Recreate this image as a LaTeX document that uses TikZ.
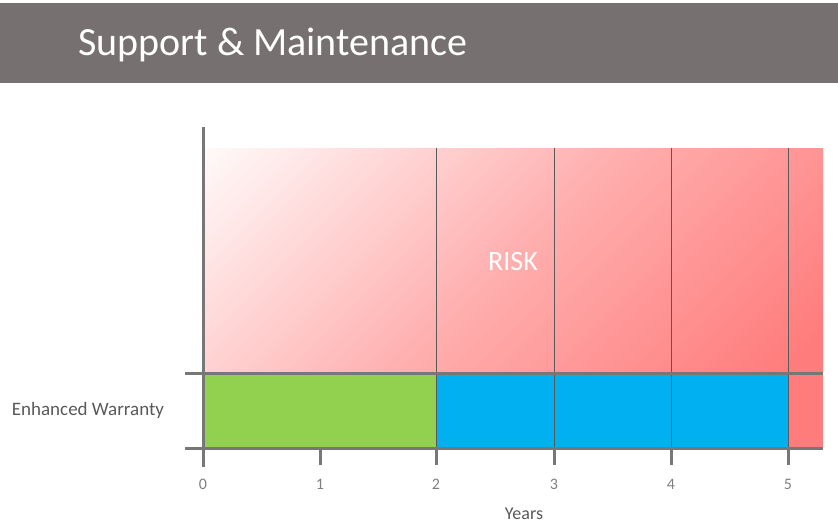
\documentclass[tikz,border=0pt]{standalone}
\usepackage{fontspec}
\setmainfont{Carlito}
\definecolor{bandgray}{HTML}{767170}
\definecolor{axisgray}{HTML}{777777}
\definecolor{gridgray}{HTML}{595959}
\definecolor{riskred}{HTML}{FF7C7C}
\definecolor{warrgreen}{HTML}{92D050}
\definecolor{warrblue}{HTML}{00B0F0}
\definecolor{labelgray}{HTML}{7F7F7F}
\pgfdeclareverticalshading{riskfade}{100bp}{color(0bp)=(riskred); color(18bp)=(riskred); color(50bp)=(riskred!62); color(88bp)=(white); color(100bp)=(white)}

\begin{document}
\begin{tikzpicture}[x=1pt, y=-1pt,
  axisline/.style={axisgray, line width=3pt},
  gridline/.style={gridgray, line width=0.8pt},
  ticklabel/.style={labelgray, font=\fontsize{16}{18}\selectfont},
  axislabel/.style={gridgray, font=\fontsize{18}{21}\selectfont}]
  \useasboundingbox (0,0) rectangle (838,529);

  % Header
  \fill[bandgray] (0,3) rectangle (838,83);
  \node[anchor=base west, white, inner sep=0pt, font=\fontsize{40}{44}\selectfont] (title) at (78,56) {Support \& Maintenance};

  % Areas
  \shade[shading=riskfade, shading angle=45] (203,149) rectangle (823,373);
  \fill[warrgreen] (203,373) rectangle (436,448);
  \fill[warrblue] (436,373) rectangle (788,448);
  \fill[riskred] (788,373) rectangle (823,448);
  \node[white, font=\fontsize{28}{32}\selectfont] (risk) at (513,262) {RISK};

  % Grid
  \foreach \xp in {436,554,671,788}
    \draw[gridline] (\xp,148) -- (\xp,448);
  \draw[axisline] (185,373) -- (823,373);
  \draw[axisline] (185,448) -- (823,448);
  \draw[axisline] (203,127) -- (203,467);
  \foreach \yr/\xp in {1/320,2/436,3/554,4/671,5/788}
    \draw[axisline] (\xp,448) -- (\xp,465);

  % Labels
  \foreach \yr/\xp in {0/203,1/320,2/436,3/554,4/671,5/788}
    \node[ticklabel] (y\yr) at (\xp,484) {\yr};
  \node[axislabel] (years) at (524,514) {Years};
  \node[axislabel, font=\fontsize{19}{22}\selectfont] (warranty) at (88,410) {Enhanced Warranty};
\end{tikzpicture}
\end{document}
